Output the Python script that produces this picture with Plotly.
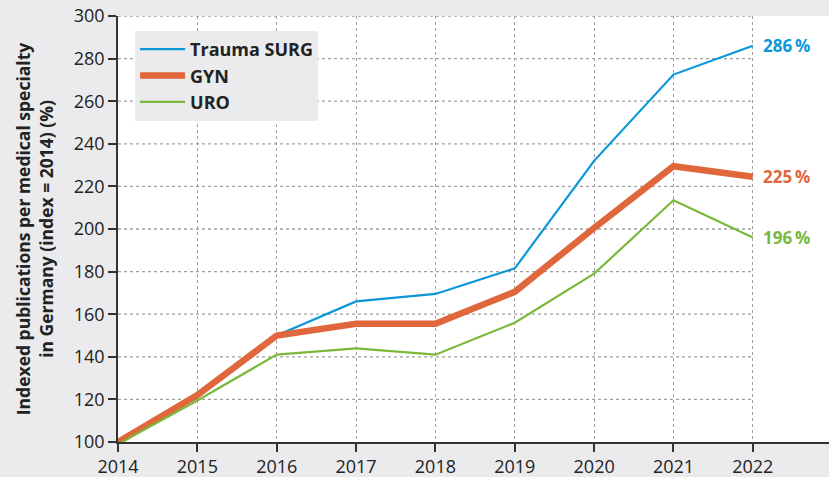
import plotly.graph_objects as go

years = [2014, 2015, 2016, 2017, 2018, 2019, 2020, 2021, 2022]
trauma = [100, 121, 150, 166, 169.5, 181.5, 232, 272.5, 286]
gyn = [100, 122, 150, 155.5, 155.5, 170.5, 200.5, 229.5, 224.5]
uro = [99, 119.5, 141, 144, 141, 156, 179, 213.5, 196]
yticks = [100, 120, 140, 160, 180, 200, 220, 240, 260, 280, 300]
end_labels = ["286\u2009%", "225\u2009%", "196\u2009%"]

BLUE = "#0a97d9"
ORANGE = "#e0663c"
GREEN = "#7ab83c"
BG = "#ebebed"
FONT = "Open Sans"

fig = go.Figure()
fig.add_trace(go.Scatter(x=years, y=trauma, mode="lines", name="<b>Trauma SURG</b>",
                         line=dict(color=BLUE, width=2.2)))
fig.add_trace(go.Scatter(x=years, y=gyn, mode="lines", name="<b>GYN</b>",
                         line=dict(color=ORANGE, width=6.5)))
fig.add_trace(go.Scatter(x=years, y=uro, mode="lines", name="<b>URO</b>",
                         line=dict(color=GREEN, width=2.2)))

shapes = []
for v in yticks[1:]:
    shapes.append(dict(type="line", xref="x", yref="y", x0=2014, x1=2022, y0=v, y1=v,
                       line=dict(color="#a0a0a0", width=1.3, dash="dot"), layer="below"))
fig.update_layout(shapes=shapes)

for val, lab, col in zip([trauma[-1], gyn[-1], uro[-1]], end_labels, [BLUE, ORANGE, GREEN]):
    fig.add_annotation(x=years[-1], y=val, text="<b>" + lab + "</b>", showarrow=False,
                       xanchor="left", xshift=8, yanchor="middle",
                       font=dict(color=col, size=17, family=FONT))

fig.update_layout(
    width=829, height=477,
    margin=dict(l=118, r=0, t=16, b=35),
    paper_bgcolor=BG, plot_bgcolor="white",
    font=dict(family=FONT, color="#222222"),
    showlegend=True,
    legend=dict(x=0.024, y=0.965, xanchor="left", yanchor="top",
                bgcolor=BG, font=dict(size=18, family=FONT, color="#222222"),
                itemwidth=45, tracegroupgap=2,
                borderwidth=0),
    xaxis=dict(range=[2014, 2022.96], tickvals=years, ticktext=[str(y) for y in years],
               showgrid=True, gridcolor="#a0a0a0", griddash="dot", gridwidth=1.3,
               ticks="outside", ticklen=8, tickcolor="#333333", tickwidth=1.5,
               showline=True, linecolor="#333333", linewidth=1.5,
               tickfont=dict(size=18, family=FONT, color="#222222"), zeroline=False,
               automargin=False, ticklabelstandoff=0),
    yaxis=dict(range=[100, 300], tickvals=yticks,
               showgrid=False,
               ticks="outside", ticklen=8, tickcolor="#333333", tickwidth=1.5,
               showline=True, linecolor="#333333", linewidth=1.5,
               tickfont=dict(size=18, family=FONT, color="#222222"), zeroline=False,
               automargin=False,
               title=dict(text="<b>Indexed publications per medical specialty<br>in Germany (index = 2014) (%)</b>",
                          font=dict(size=17.5, family=FONT, color="#222222"), standoff=16)),
)

fig.write_html("out.html", config={"displayModeBar": False},
               post_script="document.body.style.margin='0';document.body.style.padding='0';document.body.style.overflow='hidden';")
